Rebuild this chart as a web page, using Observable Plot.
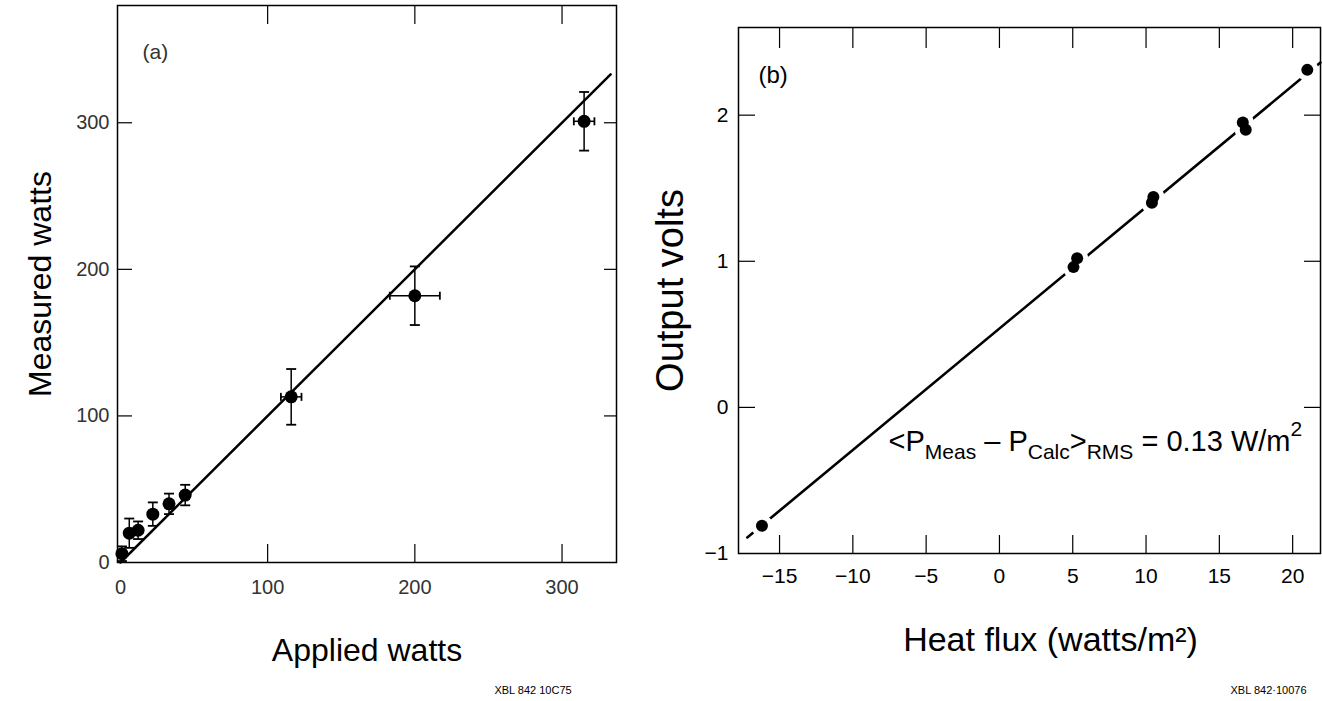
<!DOCTYPE html>
<html><head><meta charset="utf-8">
<script src="https://cdn.jsdelivr.net/npm/d3@7"></script>
<script src="https://cdn.jsdelivr.net/npm/@observablehq/plot@0.6"></script>
<style>
html,body{margin:0;padding:0;background:#fff;}
#wrap{position:relative;width:1322px;height:701px;overflow:hidden;background:#fff;}
#pa,#pb{position:absolute;top:0;}
#pa{left:0;} #pb{left:636px;}
</style></head><body><div id="wrap"><div id="pa"></div><div id="pb"></div></div>
<script>
// ---- Panel (a) data ----
const appliedW    = [1, 6, 12, 22, 33, 44, 116, 200, 315];
const measuredW   = [6, 20, 22, 33, 40, 46, 113, 182, 301];
const appliedErr  = [0, 0, 0, 0, 0, 0, 7, 17, 7];
const measuredErr = [5, 10, 6, 8, 7, 7, 19, 20, 20];
const fitA_x = [0, 333];
const fitA_y = [0, 333];
const ticksA = [0, 100, 200, 300];

// ---- Panel (b) data ----
const heatFlux = [-16.2, 5.05, 5.3, 10.4, 10.5, 16.6, 16.8, 21.0];
const outputV  = [-0.81, 0.96, 1.02, 1.40, 1.44, 1.95, 1.90, 2.31];
const fitB_x = [-17.2, 21.9];
const fitB_y = [-0.89, 2.36];
const ticksBx = [-15, -10, -5, 0, 5, 10, 15, 20];
const ticksBy = [-1, 0, 1, 2];
const ticksByInner = [0, 1, 2];

const annotParts = [["<P",0],["Meas",1],[" – P",0],["Calc",1],[">",0],["RMS",1],[" = 0.13 W/m",0],["2",2]];
const annotPlain = annotParts.map(p => p[0]).join("");

const font = "'Liberation Sans', Arial, Helvetica, sans-serif";
const narrow = "'Liberation Sans Narrow', 'Liberation Sans', Arial, sans-serif";
const intFmt = d3.format("d");

const dataA = appliedW.map((x, i) => ({x, y: measuredW[i], ex: appliedErr[i], ey: measuredErr[i]}));
const dataAx = dataA.filter(d => d.ex > 0);
const fitA = fitA_x.map((x, i) => ({x, y: fitA_y[i]}));
const dataB = heatFlux.map((x, i) => ({x, y: outputV[i]}));
const fitB = fitB_x.map((x, i) => ({x, y: fitB_y[i]}));

const capH = {draw(ctx, size){const r = Math.sqrt(size / Math.PI); ctx.moveTo(-r, 0); ctx.lineTo(r, 0);}};
const capV = {draw(ctx, size){const r = Math.sqrt(size / Math.PI); ctx.moveTo(0, -r); ctx.lineTo(0, r);}};
const fmtEmpty = () => "";

const plotA = Plot.plot({
  width: 636, height: 701,
  marginLeft: 117, marginRight: 20, marginTop: 5, marginBottom: 139,
  x: {domain: [-2, 337], label: null},
  y: {domain: [0, 380], label: null},
  style: {fontFamily: font, background: "white", color: "black"},
  marks: [
    Plot.frame({stroke: "black", strokeWidth: 1.5}),
    Plot.axisX(ticksA, {anchor: "bottom", tickSize: 0, tickPadding: 17, fontSize: 20, fontFamily: narrow, fill: "#333", label: null, tickFormat: intFmt}),
    Plot.axisY(ticksA, {anchor: "left", tickSize: 0, tickPadding: 8, fontSize: 20, fontFamily: narrow, fill: "#333", label: null, tickFormat: intFmt}),
    Plot.axisX(ticksA.slice(1), {anchor: "bottom", tickSize: -18, tickFormat: fmtEmpty, label: null, strokeWidth: 1.2}),
    Plot.axisX(ticksA.slice(1), {anchor: "top", tickSize: -18, tickFormat: fmtEmpty, label: null, strokeWidth: 1.2}),
    Plot.axisY(ticksA.slice(1), {anchor: "left", tickSize: -15, tickFormat: fmtEmpty, label: null, strokeWidth: 1.2}),
    Plot.axisY(ticksA.slice(1), {anchor: "right", tickSize: -13, tickFormat: fmtEmpty, label: null, strokeWidth: 1.2}),
    Plot.line(fitA, {x: "x", y: "y", stroke: "black", strokeWidth: 2.5}),
    Plot.link(dataA, {x1: "x", x2: "x", y1: d => d.y - d.ey, y2: d => d.y + d.ey, stroke: "black", strokeWidth: 1.5}),
    Plot.dot(dataA, {x: "x", y: d => d.y + d.ey, symbol: capH, r: 5, stroke: "black", strokeWidth: 1.8}),
    Plot.dot(dataA, {x: "x", y: d => d.y - d.ey, symbol: capH, r: 5, stroke: "black", strokeWidth: 1.8}),
    Plot.link(dataAx, {x1: d => d.x - d.ex, x2: d => d.x + d.ex, y1: "y", y2: "y", stroke: "black", strokeWidth: 1.5}),
    Plot.dot(dataAx, {x: d => d.x - d.ex, y: "y", symbol: capV, r: 4, stroke: "black", strokeWidth: 1.8}),
    Plot.dot(dataAx, {x: d => d.x + d.ex, y: "y", symbol: capV, r: 4, stroke: "black", strokeWidth: 1.8}),
    Plot.dot(dataA, {x: "x", y: "y", r: 6.5, fill: "black"}),
    Plot.text(["(a)"], {text: d => d, frameAnchor: "top-left", dx: 25, dy: 47, textAnchor: "start", lineAnchor: "middle", fontSize: 21, fill: "#333"}),
    Plot.text(["Measured watts"], {text: d => d, frameAnchor: "left", dx: -77, rotate: -90, textAnchor: "middle", lineAnchor: "middle", fontSize: 32}),
    Plot.text(["Applied watts"], {text: d => d, frameAnchor: "bottom", dy: 88, textAnchor: "middle", lineAnchor: "middle", fontSize: 32}),
    Plot.text(["XBL 842 10C75"], {text: d => d, frameAnchor: "bottom", dx: 166, dy: 128, textAnchor: "middle", lineAnchor: "middle", fontSize: 11})
  ]
});
document.getElementById("pa").appendChild(plotA);

const plotB = Plot.plot({
  width: 686, height: 701,
  marginLeft: 102, marginRight: 2, marginTop: 27, marginBottom: 148,
  x: {domain: [-17.8, 21.9], label: null},
  y: {domain: [-1, 2.6], label: null},
  style: {fontFamily: font, background: "white", color: "black"},
  marks: [
    Plot.frame({stroke: "black", strokeWidth: 1.5}),
    Plot.axisX(ticksBx, {anchor: "bottom", tickSize: 0, tickPadding: 15, fontSize: 21, label: null, tickFormat: intFmt}),
    Plot.axisY(ticksBy, {anchor: "left", tickSize: 0, tickPadding: 10, fontSize: 21, label: null, tickFormat: intFmt}),
    Plot.axisX(ticksBx, {anchor: "bottom", tickSize: -18, tickFormat: fmtEmpty, label: null, strokeWidth: 1.2}),
    Plot.axisX(ticksBx, {anchor: "top", tickSize: -20, tickFormat: fmtEmpty, label: null, strokeWidth: 1.2}),
    Plot.axisY(ticksByInner, {anchor: "left", tickSize: -17, tickFormat: fmtEmpty, label: null, strokeWidth: 1.2}),
    Plot.axisY(ticksByInner, {anchor: "right", tickSize: -17, tickFormat: fmtEmpty, label: null, strokeWidth: 1.2}),
    Plot.line(fitB, {x: "x", y: "y", stroke: "black", strokeWidth: 2.6}),
    Plot.dot(dataB, {x: "x", y: "y", r: 11, fill: "white"}),
    Plot.dot(dataB, {x: "x", y: "y", r: 6, fill: "black"}),
    Plot.text(["(b)"], {text: d => d, frameAnchor: "top-left", dx: 20, dy: 48, textAnchor: "start", lineAnchor: "middle", fontSize: 24}),
    Plot.text([annotPlain], {text: d => d, frameAnchor: "left", dx: 150, dy: 160, textAnchor: "start", lineAnchor: "bottom", fontSize: 29}),
    Plot.text(["Output volts"], {text: d => d, frameAnchor: "left", dx: -68, rotate: -90, textAnchor: "middle", lineAnchor: "middle", fontSize: 38}),
    Plot.text(["Heat flux (watts/m²)"], {text: d => d, frameAnchor: "bottom", dx: 21, dy: 87, textAnchor: "middle", lineAnchor: "middle", fontSize: 34}),
    Plot.text(["XBL 842·10076"], {text: d => d, frameAnchor: "bottom", dx: 239, dy: 137, textAnchor: "middle", lineAnchor: "middle", fontSize: 11})
  ]
});
document.getElementById("pb").appendChild(plotB);

// build sub/superscripts of the annotation as real text tspans
d3.select(plotB).selectAll("text").filter(function(){ return this.textContent === annotPlain; }).each(function(){
  const t = d3.select(this);
  t.text(null);
  let cur = 0;
  for (const [s, k] of annotParts) {
    const shift = k === 1 ? 8 : k === 2 ? -15 : 0;
    const sp = t.append("tspan").attr("dy", shift - cur).text(s);
    if (k) sp.attr("font-size", 21);
    cur = shift;
  }
});
</script>
</body></html>
